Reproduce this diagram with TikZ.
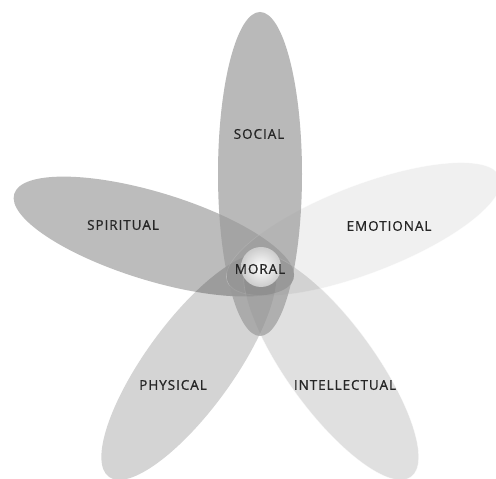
\documentclass[tikz,border=0pt]{standalone}
\usepackage{fontspec}
\setmainfont{Open Sans}[LetterSpace=7,FakeBold=0.9]
\definecolor{cSoc}{gray}{0.60}
\definecolor{cSpi}{gray}{0.737}
\begin{document}
\begin{tikzpicture}[x=1pt,y=1pt,
  petal/.style 2 args={fill=#1,fill opacity=#2},
  rim/.style={draw=white,draw opacity=0.5,line width=0.6pt},
  lbl/.style={text=black!85,font=\fontsize{13.5}{15}\selectfont,inner sep=0pt}]
\useasboundingbox (0,0) rectangle (496,479);
\fill[white] (0,0) rectangle (496,479);
% petals: centre of flower (260,210)
\begin{scope}[shift={(260,210)}]
  \path[petal={cSpi}{1},rotate=163]          (111,0) ellipse [x radius=146pt, y radius=44pt];
  \path[petal={black}{0.06},rim,rotate=21]   (111,0) ellipse [x radius=146pt, y radius=44pt];
  \path[petal={black}{0.12},rim,rotate=306]  (121,0) ellipse [x radius=136pt, y radius=44pt];
  \path[petal={black}{0.17},rotate=234]      (121,0) ellipse [x radius=136pt, y radius=44pt];
  \path[petal={cSoc}{0.68},rotate=90]        (95,0) ellipse [x radius=162pt, y radius=42pt];
\end{scope}
\shade[inner color=white,outer color=black!20] (261,212) circle [radius=20pt];
\node[lbl] (soc) at (259,345) {SOCIAL};
\node[lbl] (spi) at (123,254) {SPIRITUAL};
\node[lbl] (emo) at (389,253) {EMOTIONAL};
\node[lbl] (mor) at (260,210) {MORAL};
\node[lbl] (phy) at (173,94) {PHYSICAL};
\node[lbl] (int) at (345,94) {INTELLECTUAL};
\end{tikzpicture}
\end{document}
